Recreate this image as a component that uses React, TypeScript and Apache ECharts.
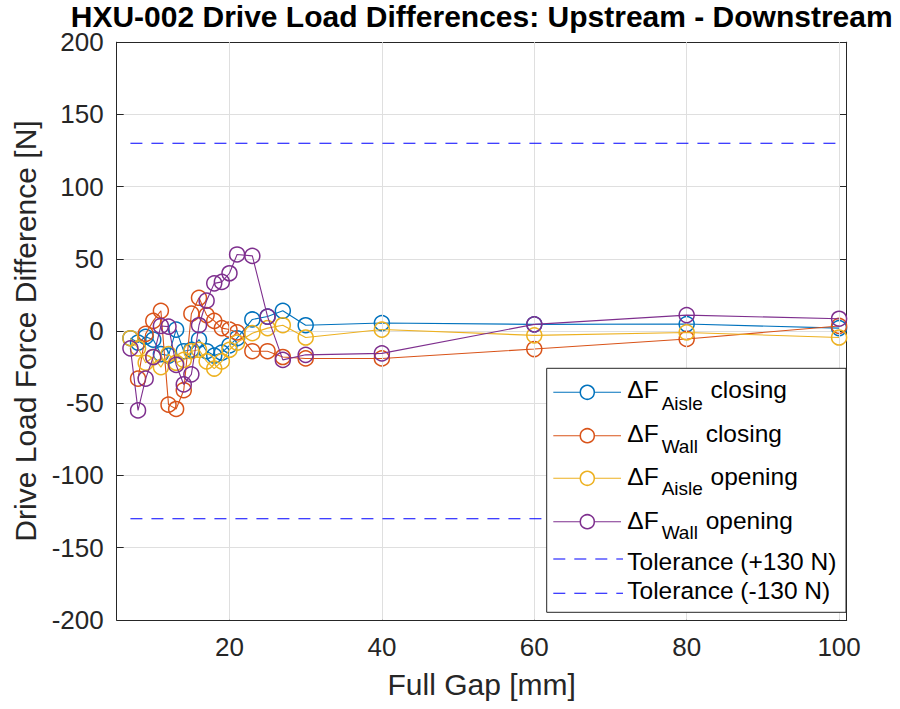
import React, { useEffect, useRef } from "react";
import * as echarts from "echarts";

// ---- data ----
const gapAll = [7, 8, 9, 10, 11, 12, 13, 14, 15, 16, 17, 18, 19, 20, 21, 23, 25, 27, 30, 40, 60, 80, 100];
const gapWallClosing = [8, 9, 10, 11, 12, 13, 14, 15, 16, 17, 18, 19, 20, 21, 23, 25, 27, 30, 40, 60, 80, 100];

const aisleClosing = [-5, -8, -4, -6, -16, -17, 1, -14, -13, -6, -14, -17, -15, -10, -5, 8, 10, 14, 4, 5.5, 4.6, 4.8, 2];
const wallClosing = [-33, -2, 7, 14, -51, -54, -41, 12, 23, 11, 7, 2, 1, -1, -14, -14, -18, -19, -19, -12.5, -5.5, 3.5];
const aisleOpening = [-5, -12, -22, -18, -25, -16, -22, -20, -14, -13, -21, -26, -21, -13, -8, -1.5, 2, 4, -4.5, 1, -3, -1, -4.5];
const wallOpening = [-12, -55, -33, -18, 3.5, 3, -23.5, -37, -30, 4, 21, 33, 34, 40, 53, 52, 10, -20, -16.5, -15.5, 4.6, 11, 8.5];

const toleranceGap = [7, 100];
const tolerancePlus = 130;
const toleranceMinus = -130;

const xTicks = [20, 40, 60, 80, 100];

const seriesNames = ["ΔF Aisle closing", "ΔF Wall closing", "ΔF Aisle opening", "ΔF Wall opening"];
const legendSubs = ["Aisle", "Wall", "Aisle", "Wall"];
const legendRests = [" closing", " closing", " opening", " opening"];
const toleranceNames = ["Tolerance (+130 N)", "Tolerance (-130 N)"];

const COLORS = ["#0072BD", "#D95319", "#EDB120", "#7E2F8E"];
const TOL_COLOR = "#0000ff";
const FONT = '"Liberation Sans", Arial, Helvetica, sans-serif';
const AX = "#262626";

function zip(xs: number[], ys: number[]) {
  return ys.map((y, i) => [xs[i], y]);
}

function textWidth(text: string, size: number) {
  const ctx = document.createElement("canvas").getContext("2d")!;
  ctx.font = `${size}px ${FONT}`;
  return ctx.measureText(text).width;
}

export default function App() {
  const ref = useRef<HTMLDivElement>(null);

  useEffect(() => {
    if (!ref.current) return;
    const chart = echarts.init(ref.current, undefined, { renderer: "svg" });

    const gridLeft = 116.7;
    const gridRight = 53.3;
    const gridTop = 42.2;
    const gridBottom = 89.2;
    const W = 900;
    const plotCenterX = gridLeft + (W - gridLeft - gridRight) / 2;

    const dataSeries = [
      zip(gapAll, aisleClosing),
      zip(gapWallClosing, wallClosing),
      zip(gapAll, aisleOpening),
      zip(gapAll, wallOpening),
    ];

    const lineSeries: any[] = dataSeries.map((d, i) => ({
      name: seriesNames[i],
      type: "line",
      data: d,
      xAxisIndex: 0,
      yAxisIndex: 0,
      symbol: "circle",
      symbolSize: 15,
      showSymbol: true,
      z: 3 + i,
      lineStyle: { color: COLORS[i], width: 1.1 },
      itemStyle: { color: "rgba(0,0,0,0)", borderColor: COLORS[i], borderWidth: 1.5 },
      emphasis: { disabled: true },
    }));

    const tolSeries: any[] = [tolerancePlus, toleranceMinus].map((v, i) => ({
      name: toleranceNames[i],
      type: "line",
      data: toleranceGap.map((g) => [g, v]),
      xAxisIndex: 0,
      yAxisIndex: 0,
      symbol: "none",
      z: 8,
      lineStyle: { color: TOL_COLOR, width: 1.1, type: [12, 9] },
      emphasis: { disabled: true },
    }));

    const gridSeries: any = {
      type: "line",
      data: [],
      xAxisIndex: 0,
      yAxisIndex: 0,
      z: 1,
      silent: true,
      markLine: {
        silent: true,
        symbol: "none",
        label: { show: false },
        lineStyle: { color: "#dfdfdf", type: "solid", width: 1 },
        data: xTicks.map((t) => ({ xAxis: t })),
        animation: false,
      },
    };

    // ---- legend graphics ----
    const lx1 = 553.3, lx2 = 621, lcx = 587.3, tx = 627.3;
    const mainSize = 24.5, subSize = 19;
    const rows = [
      { ly: 392.3, my: 389.2, sy: 403 },
      { ly: 435.7, my: 433, sy: 446 },
      { ly: 478.3, my: 476.3, sy: 488.3 },
      { ly: 521.7, my: 520, sy: 532.5 },
    ];
    const tolRows = [
      { ly: 559, my: 561 },
      { ly: 593.3, my: 590 },
    ];
    const txt = (x: number, y: number, text: string, size: number, extra: any = {}) => ({
      type: "text",
      x,
      y,
      z: 101,
      silent: true,
      style: {
        text,
        fontSize: size,
        fontFamily: FONT,
        fill: "#000",
        textAlign: "left",
        align: "left",
        textVerticalAlign: "middle",
        verticalAlign: "middle",
        ...extra,
      },
    });
    const legendEls: any[] = [
      {
        type: "rect",
        z: 100,
        silent: true,
        shape: { x: 546.7, y: 368.3, width: 299.3, height: 244 },
        style: { fill: "#ffffff", stroke: AX, lineWidth: 1 },
      },
    ];
    const deltaW = textWidth("ΔF", mainSize);
    rows.forEach((r, i) => {
      legendEls.push({
        type: "line",
        z: 101,
        silent: true,
        shape: { x1: lx1, y1: r.ly, x2: lx2, y2: r.ly },
        style: { stroke: COLORS[i], lineWidth: 1.1 },
      });
      legendEls.push({
        type: "circle",
        z: 102,
        silent: true,
        shape: { cx: lcx, cy: r.ly, r: 7 },
        style: { fill: "#ffffff", stroke: COLORS[i], lineWidth: 1.5 },
      });
      const subX = tx + deltaW + 3;
      const subW = textWidth(legendSubs[i], subSize);
      legendEls.push(txt(tx, r.my, "ΔF", mainSize));
      legendEls.push(txt(subX, r.sy, legendSubs[i], subSize));
      legendEls.push(txt(subX + subW + 1, r.my, legendRests[i], mainSize));
    });
    tolRows.forEach((r, i) => {
      legendEls.push({
        type: "line",
        z: 101,
        silent: true,
        shape: { x1: lx1, y1: r.ly, x2: lx2 + 2, y2: r.ly },
        style: { stroke: TOL_COLOR, lineWidth: 1.1, lineDash: [12, 9] },
      });
      legendEls.push(txt(tx, r.my, toleranceNames[i], mainSize));
    });

    const titleEl: any = {
      type: "text",
      x: plotCenterX,
      y: 16.5,
      z: 100,
      silent: true,
      style: {
        text: "HXU-002 Drive Load Differences: Upstream - Downstream",
        fontSize: 30,
        lineHeight: 22,
        fontWeight: "bold",
        fontFamily: FONT,
        fill: "#000",
        textAlign: "center",
        align: "center",
        textVerticalAlign: "middle",
        verticalAlign: "middle",
      },
    };

    const xCommon = {
      type: "value",
      min: 5.2,
      max: 101,
      gridIndex: 0,
      splitLine: { show: false },
      axisLine: { show: true, onZero: false, lineStyle: { color: AX, width: 1 } },
      axisTick: { show: true, inside: true, length: 7, customValues: xTicks, lineStyle: { color: AX } },
    };
    const yCommon = {
      type: "value",
      min: -200,
      max: 200,
      interval: 50,
      gridIndex: 0,
      axisLine: { show: true, onZero: false, lineStyle: { color: AX, width: 1 } },
      axisTick: { show: true, inside: true, length: 7, lineStyle: { color: AX } },
    };

    chart.setOption({
      animation: false,
      backgroundColor: "#ffffff",
      grid: {
        left: gridLeft,
        right: gridRight,
        top: gridTop,
        bottom: gridBottom,
        containLabel: false,
        outerBoundsMode: "none",
      },
      xAxis: [
        {
          ...xCommon,
          position: "bottom",
          name: "Full Gap [mm]",
          nameLocation: "middle",
          nameGap: 50,
          nameTextStyle: { fontSize: 30, color: AX, fontFamily: FONT },
          axisLabel: { show: true, customValues: xTicks, fontSize: 26, color: AX, fontFamily: FONT, margin: 14 },
        },
        {
          ...xCommon,
          position: "top",
          axisLabel: { show: false },
        },
      ],
      yAxis: [
        {
          ...yCommon,
          position: "left",
          name: "Drive Load Force Difference [N]",
          nameLocation: "middle",
          nameGap: 63,
          nameTextStyle: { fontSize: 30, color: AX, fontFamily: FONT },
          axisLabel: { show: true, fontSize: 26, color: AX, fontFamily: FONT, margin: 13, lineHeight: 20 },
          splitLine: { show: true, lineStyle: { color: "#dfdfdf", width: 1 } },
        },
        {
          ...yCommon,
          position: "right",
          axisLabel: { show: false },
          splitLine: { show: false },
        },
      ],
      series: [gridSeries, ...lineSeries, ...tolSeries],
      graphic: [titleEl, ...legendEls],
    });

    return () => chart.dispose();
  }, []);

  return (
    <div
      ref={ref}
      style={{ position: "fixed", left: 0, top: 0, width: 900, height: 709, background: "#fff" }}
    />
  );
}
